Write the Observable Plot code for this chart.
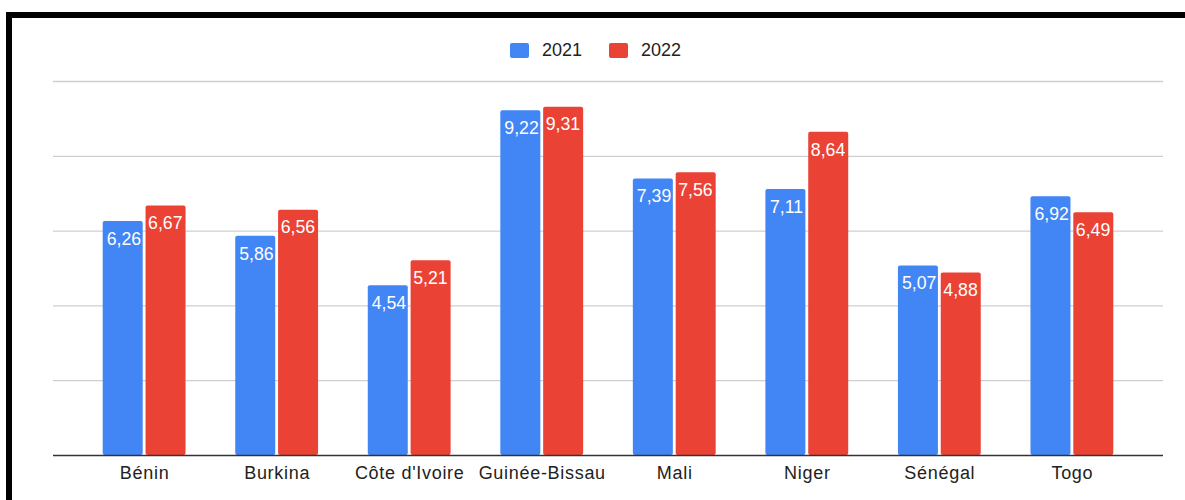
<!DOCTYPE html>
<html>
<head>
<meta charset="utf-8">
<script src="https://cdn.jsdelivr.net/npm/d3@7"></script>
<script src="https://cdn.jsdelivr.net/npm/@observablehq/plot@0.6"></script>
<style>
  html, body { margin: 0; padding: 0; background: #fff; }
  #wrap { position: relative; width: 1185px; height: 500px; overflow: hidden; font-family: "Liberation Sans", Arial, sans-serif; }
  #frame { position: absolute; top: 12px; left: 6px; width: 1200px; height: 600px; border-top: 6px solid #000; border-left: 6px solid #000; box-sizing: border-box; }
  #legend { position: absolute; top: 40px; left: 510px; display: flex; align-items: center; font-size: 18px; color: #222; line-height: 20px; }
  .item { display: flex; align-items: center; }
  .item + .item { margin-left: 27px; }
  .sw { width: 19px; height: 15px; border-radius: 2px; margin-right: 13px; }
  #chart { position: absolute; top: 0; left: 0; }
</style>
</head>
<body>
<div id="wrap">
  <div id="frame"></div>
  <div id="legend"></div>
  <div id="chart"></div>
</div>
<script>
const countries = ["Bénin", "Burkina", "Côte d'Ivoire", "Guinée-Bissau", "Mali", "Niger", "Sénégal", "Togo"];
const years = ["2021", "2022"];
const v2021 = [6.26, 5.86, 4.54, 9.22, 7.39, 7.11, 5.07, 6.92];
const v2022 = [6.67, 6.56, 5.21, 9.31, 7.56, 8.64, 4.88, 6.49];
const colors = ["#4285F4", "#EA4335"];

const rows21 = countries.map((c, i) => ({country: c, value: v2021[i]}));
const rows22 = countries.map((c, i) => ({country: c, value: v2022[i]}));
const fmt = v => v.toFixed(2).replace(".", ",");

const W = 1185, H = 500, mL = 53, mR = 22, pad = 0.375;
const step = (W - mL - mR) / (countries.length - pad + 2 * pad);
const bw = step * (1 - pad);
const barW = 40;
const inset = bw - barW;
const off = (bw - barW) / 2 + barW / 2; // bar centre offset from band centre

const legend = document.getElementById("legend");
years.forEach((y, i) => {
  const it = document.createElement("div");
  it.className = "item";
  it.innerHTML = `<div class="sw" style="background:${colors[i]}"></div><span>${y}</span>`;
  legend.appendChild(it);
});

const chart = Plot.plot({
  width: W,
  height: H,
  marginLeft: mL,
  marginRight: mR,
  marginTop: 81,
  marginBottom: 45,
  style: {fontFamily: "'Liberation Sans', Arial, sans-serif", fontSize: "18px", color: "#222", background: "transparent"},
  x: {domain: countries, padding: pad, round: false, label: null, tickSize: 0, tickPadding: 11},
  y: {domain: [0, 10], axis: null},
  marks: [
    Plot.ruleY([2, 4, 6, 8, 10], {stroke: "#cfcfcf", strokeWidth: 1.3}),
    Plot.barY(rows21, {x: "country", y: "value", fill: colors[0], insetRight: inset, rx: 2}),
    Plot.barY(rows22, {x: "country", y: "value", fill: colors[1], insetLeft: inset, rx: 2}),
    Plot.text(rows21, {x: "country", y: "value", text: d => fmt(d.value), fill: "#fff", dx: -off / 2, dy: 17.5, fontSize: 17.7}),
    Plot.text(rows22, {x: "country", y: "value", text: d => fmt(d.value), fill: "#fff", dx: off / 2, dy: 17.5, fontSize: 17.7}),
    Plot.ruleY([0], {stroke: "#333", strokeWidth: 1.4})
  ]
});
chart.querySelectorAll("g[aria-label='x-axis tick label'] text, g[aria-label='x-axis'] text").forEach(t => t.setAttribute("letter-spacing", "0.7"));
document.getElementById("chart").appendChild(chart);
</script>
</body>
</html>
